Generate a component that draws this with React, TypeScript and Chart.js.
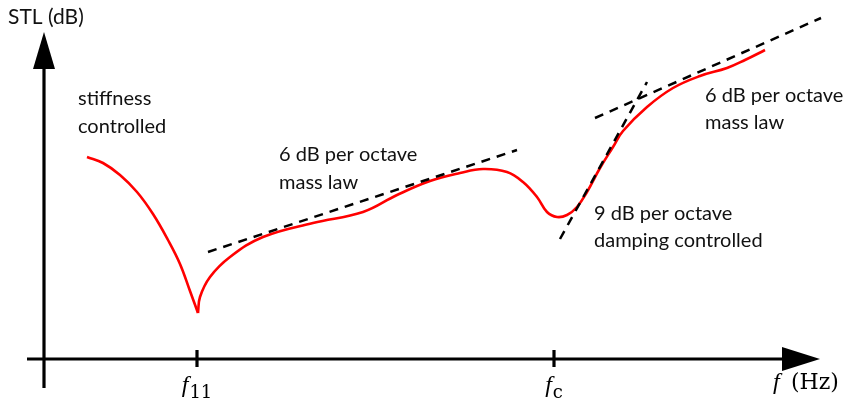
import { useEffect, useRef } from "react";
import { Chart, registerables } from "chart.js";

Chart.register(...registerables);

// Schematic STL curve: x = log-frequency units, y = STL units (arbitrary)
const curveLeftX = [87, 103, 120, 137, 153, 168, 180, 190, 198];
const curveLeftY = [247, 241, 229, 212, 190, 164, 140, 113, 91];
const curveRightX = [198, 200, 210, 230, 263, 313, 363, 397, 430, 460, 483, 507, 523, 537, 547, 557, 567, 577, 587, 600, 613, 623, 647, 673, 700, 727, 745, 765];
const curveRightY = [91, 107, 127, 147, 167, 181, 192, 209, 223, 231, 235, 232, 222, 207, 192, 187, 189, 197, 212, 236, 257, 273, 297, 316, 328, 336, 344, 354];

// Asymptote lines
const massLawLowX = [208, 517];
const massLawLowY = [152, 254];
const dampingX = [560, 647];
const dampingY = [165, 322];
const massLawHighX = [595, 821];
const massLawHighY = [286, 386];

// Axes
const xAxisX = [27, 784];
const xAxisY = [45, 45];
const yAxisX = [44, 44];
const yAxisY = [16, 337];
const tickValues = [197, 554];
const tickLabels = ["11", "c"];

const X_MIN = 0, X_MAX = 845, Y_MIN = 0, Y_MAX = 404;

const pts = (xs: number[], ys: number[]) => xs.map((x, i) => ({ x, y: ys[i] }));

const textPlugin = {
  id: "schematicText",
  afterDatasetsDraw(chart: any) {
    const { ctx, scales } = chart;
    const sx = (v: number) => scales.x.getPixelForValue(v);
    const sy = (v: number) => scales.y.getPixelForValue(v);
    ctx.save();
    ctx.fillStyle = "#000";
    // arrowheads
    ctx.beginPath();
    ctx.moveTo(sx(44), sy(372));
    ctx.lineTo(sx(33), sy(335));
    ctx.lineTo(sx(55), sy(335));
    ctx.closePath();
    ctx.fill();
    ctx.beginPath();
    ctx.moveTo(sx(820), sy(45));
    ctx.lineTo(sx(782), sy(57));
    ctx.lineTo(sx(782), sy(33));
    ctx.closePath();
    ctx.fill();

    ctx.fillStyle = "#111";
    ctx.textBaseline = "alphabetic";
    ctx.textAlign = "left";
    ctx.font = "21px Lato";
    ctx.fillText("STL (dB)", 8, 24);
    ctx.font = "20px Lato";
    ctx.fillText("stiffness", 78, 105);
    ctx.fillText("controlled", 78, 133);
    ctx.fillText("6 dB per octave", 279, 161);
    ctx.fillText("mass law", 279, 189);
    ctx.fillText("9 dB per octave", 594, 220);
    ctx.fillText("damping controlled", 594, 247);
    ctx.fillText("6 dB per octave", 705, 102);
    ctx.fillText("mass law", 705, 129);

    // math labels
    ctx.fillStyle = "#000";
    const drawF = (xc: number, sub: string) => {
      const px = sx(xc);
      ctx.font = "italic 24px 'Liberation Serif'";
      const fw = ctx.measureText("f").width;
      ctx.font = "18px 'DejaVu Serif'";
      const sw = ctx.measureText(sub).width;
      const total = fw + 1 + sw;
      const left = px - total / 2;
      ctx.font = "italic 24px 'Liberation Serif'";
      ctx.fillText("f", left, 392);
      ctx.font = "18px 'DejaVu Serif'";
      ctx.fillText(sub, left + fw + 1, 398);
    };
    tickValues.forEach((v, i) => drawF(v, tickLabels[i]));
    ctx.font = "italic 24px 'Liberation Serif'";
    ctx.fillText("f", 773, 389);
    ctx.font = "22px 'DejaVu Serif'";
    ctx.fillText("(Hz)", 791, 389);
    ctx.restore();
  },
};

export default function App() {
  const ref = useRef<HTMLCanvasElement | null>(null);
  useEffect(() => {
    if (!ref.current) return;
    const dashed = (xs: number[], ys: number[]) => ({
      data: pts(xs, ys),
      borderColor: "#000",
      borderWidth: 2.5,
      borderDash: [9, 7],
      pointRadius: 0,
      tension: 0,
      clip: false as any,
    });
    const solid = (xs: number[], ys: number[], w: number) => ({
      data: pts(xs, ys),
      borderColor: "#000",
      borderWidth: w,
      pointRadius: 0,
      tension: 0,
      clip: false as any,
    });
    const red = (xs: number[], ys: number[]) => ({
      data: pts(xs, ys),
      borderColor: "#ff0000",
      borderWidth: 2.6,
      pointRadius: 0,
      tension: 0.4,
      clip: false as any,
    });
    const chart = new Chart(ref.current, {
      type: "line",
      data: {
        datasets: [
          solid(xAxisX, xAxisY, 3.2),
          solid(yAxisX, yAxisY, 3.2),
          ...tickValues.map((v) => solid([v, v], [37, 54], 3.2)),
          dashed(massLawLowX, massLawLowY),
          dashed(dampingX, dampingY),
          dashed(massLawHighX, massLawHighY),
          red(curveLeftX, curveLeftY),
          red(curveRightX, curveRightY),
        ] as any,
      },
      options: {
        animation: false,
        responsive: false,
        maintainAspectRatio: false,
        layout: { padding: 0 },
        plugins: { legend: { display: false }, tooltip: { enabled: false } },
        events: [],
        scales: {
          x: { type: "linear", min: X_MIN, max: X_MAX, display: false },
          y: { type: "linear", min: Y_MIN, max: Y_MAX, display: false },
        },
      },
      plugins: [textPlugin],
    });
    return () => chart.destroy();
  }, []);
  return (
    <div style={{ position: "absolute", left: 0, top: 0, width: 845, height: 404, background: "#fff" }}>
      <canvas ref={ref} width={845} height={404} style={{ display: "block" }} />
    </div>
  );
}
